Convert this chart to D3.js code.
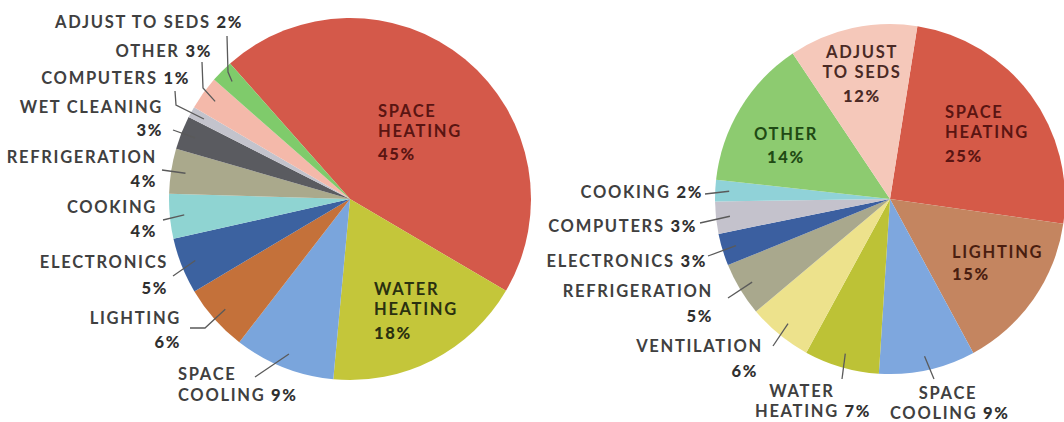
<!DOCTYPE html>
<html><head><meta charset="utf-8">
<script src="https://cdn.jsdelivr.net/npm/d3@7"></script>
<style>
html,body{margin:0;padding:0;background:#fff;}
svg text{font-family:Lato,"Open Sans",sans-serif;}
</style></head>
<body><svg id="chart" width="1064" height="422"></svg>
<script>
// ---------- DATA ----------
const leftCategories = ["SPACE HEATING","WATER HEATING","SPACE COOLING","LIGHTING","ELECTRONICS","COOKING","REFRIGERATION","WET CLEANING","COMPUTERS","OTHER","ADJUST TO SEDS"];
const leftValues     = [45, 18, 9, 6, 5, 4, 4, 3, 1, 3, 2];

const rightCategories = ["SPACE HEATING","LIGHTING","SPACE COOLING","WATER HEATING","VENTILATION","REFRIGERATION","ELECTRONICS","COMPUTERS","COOKING","OTHER","ADJUST TO SEDS"];
const rightValues     = [25, 15, 9, 7, 6, 5, 3, 3, 2, 14, 12];

// ---------- STYLE / LAYOUT ----------
const leftColors = {
  "SPACE HEATING":"#d4594a","WATER HEATING":"#c4c63a","SPACE COOLING":"#7aa5dc","LIGHTING":"#c4713a",
  "ELECTRONICS":"#3c62a0","COOKING":"#8fd4d2","REFRIGERATION":"#aaa98c","WET CLEANING":"#5a5b60",
  "COMPUTERS":"#c3c3cc","OTHER":"#f4b9aa","ADJUST TO SEDS":"#7fcb6b"
};
const rightColors = {
  "SPACE HEATING":"#d55a48","LIGHTING":"#c48560","SPACE COOLING":"#7ea7de","WATER HEATING":"#bdc236",
  "VENTILATION":"#ede28c","REFRIGERATION":"#a9a88d","ELECTRONICS":"#3b5fa0","COMPUTERS":"#c4c2cc",
  "COOKING":"#90d2d8","OTHER":"#8dcb70","ADJUST TO SEDS":"#f5c8ba"
};

// label layout: lines = [[name, pct, y, x, anchor]], leader = outer points (inner end from arc)
const leftLayout = {
  "SPACE HEATING":{inside:true, color:"#5a1512", lines:[["SPACE","",117,378,"start"],["HEATING","",137,378,"start"],["","45%",160,378,"start"]]},
  "WATER HEATING":{inside:true, color:"#2a3010", lines:[["WATER","",295,374,"start"],["HEATING","",315,374,"start"],["","18%",339,374,"start"]]},
  "SPACE COOLING":{lines:[["SPACE","",380,178,"start"],["COOLING ","9%",401,178,"start"]], leader:[[255,377]]},
  "LIGHTING":{lines:[["LIGHTING","",324,181,"end"],["","6%",348,181,"end"]], leader:[[190,328],[205,328]]},
  "ELECTRONICS":{lines:[["ELECTRONICS","",268,168,"end"],["","5%",294,168,"end"]], leader:[[173,276]]},
  "COOKING":{lines:[["COOKING","",213,157,"end"],["","4%",237,157,"end"]], leader:[[163,220]]},
  "REFRIGERATION":{lines:[["REFRIGERATION","",163,157,"end"],["","4%",187,157,"end"]], leader:[[162,170]]},
  "WET CLEANING":{lines:[["WET CLEANING","",113,163,"end"],["","3%",136,163,"end"]], leader:[[173,130]]},
  "COMPUTERS":{lines:[["COMPUTERS ","1%",84,190,"end"]], leader:[[175,91],[176,105]]},
  "OTHER":{lines:[["OTHER ","3%",57,212,"end"]], leader:[[202,62],[203,88]]},
  "ADJUST TO SEDS":{lines:[["ADJUST TO SEDS ","2%",28,243,"end"]], leader:[[227,36],[228,72]]}
};
const rightLayout = {
  "SPACE HEATING":{inside:true, color:"#5a1512", lines:[["SPACE","",118,945,"start"],["HEATING","",138,945,"start"],["","25%",162,945,"start"]]},
  "LIGHTING":{inside:true, color:"#4a1e10", lines:[["LIGHTING","",258,952,"start"],["","15%",280,952,"start"]]},
  "SPACE COOLING":{lines:[["SPACE","",399,948,"middle"],["COOLING ","9%",419,890,"start"]], leader:[[934,379]]},
  "WATER HEATING":{lines:[["WATER","",397,802,"middle"],["HEATING ","7%",417,755,"start"]], leader:[[842,379]]},
  "VENTILATION":{lines:[["VENTILATION","",352,763,"end"],["","6%",377,758,"end"]], leader:[[773,346]]},
  "REFRIGERATION":{lines:[["REFRIGERATION","",297,713,"end"],["","5%",322,713,"end"]], leader:[[728,298]]},
  "ELECTRONICS":{lines:[["ELECTRONICS ","3%",267,707,"end"]], leader:[[708,256]]},
  "COMPUTERS":{lines:[["COMPUTERS ","3%",232,697,"end"]], leader:[[700,223]]},
  "COOKING":{lines:[["COOKING ","2%",198,703,"end"]], leader:[[705,194]]},
  "OTHER":{inside:true, color:"#1f4a14", lines:[["OTHER","",140,786,"middle"],["","14%",163,786,"middle"]]},
  "ADJUST TO SEDS":{inside:true, color:"#4a2a25", lines:[["ADJUST","",58,862,"middle"],["TO SEDS","",78,862,"middle"],["","12%",102,862,"middle"]]}
};

const svg = d3.select("#chart");
const FS = 16.5;

function drawPie(cats, vals, colors, layout, cx, cy, r, startDeg){
  const a0 = startDeg*Math.PI/180;
  const data = cats.map((c,i)=>({cat:c, value:vals[i]}));
  const pie = d3.pie().sort(null).value(d=>d.value).startAngle(a0).endAngle(a0+2*Math.PI);
  const arcs = pie(data);
  const arc = d3.arc().innerRadius(0).outerRadius(r);
  const g = svg.append("g").attr("transform",`translate(${cx},${cy})`);
  g.selectAll("path.slice").data(arcs).join("path")
    .attr("class","slice").attr("d",arc).attr("fill",d=>colors[d.data.cat]);

  const inner = d3.arc().innerRadius(r*0.92).outerRadius(r*0.92);
  const line = d3.line();
  arcs.forEach(d=>{
    const L = layout[d.data.cat];
    if(!L) return;
    if(L.leader){
      const c = inner.centroid(d);
      const pts = L.leader.map(p=>[p[0],p[1]]).concat([[c[0]+cx, c[1]+cy]]);
      svg.append("path").attr("d",line(pts)).attr("fill","none")
        .attr("stroke","#5a5a5a").attr("stroke-width",1.3);
    }
    L.lines.forEach(([name,pct,y,x,anchor])=>{
      const t = svg.append("text").attr("x",x).attr("y",y).attr("text-anchor",anchor)
        .attr("font-size",FS).attr("letter-spacing","1.7px");
      if(name) t.append("tspan").text(name).attr("font-weight",700)
        .attr("fill", L.inside ? L.color : "#404040");
      if(pct) t.append("tspan").text(pct).attr("font-weight",900)
        .attr("fill", L.inside ? L.color : "#303030");
    });
  });
}

drawPie(leftCategories, leftValues, leftColors, leftLayout, 350, 199, 181, -41.5);
drawPie(rightCategories, rightValues, rightColors, rightLayout, 890, 199, 175, 9);
</script></body></html>
